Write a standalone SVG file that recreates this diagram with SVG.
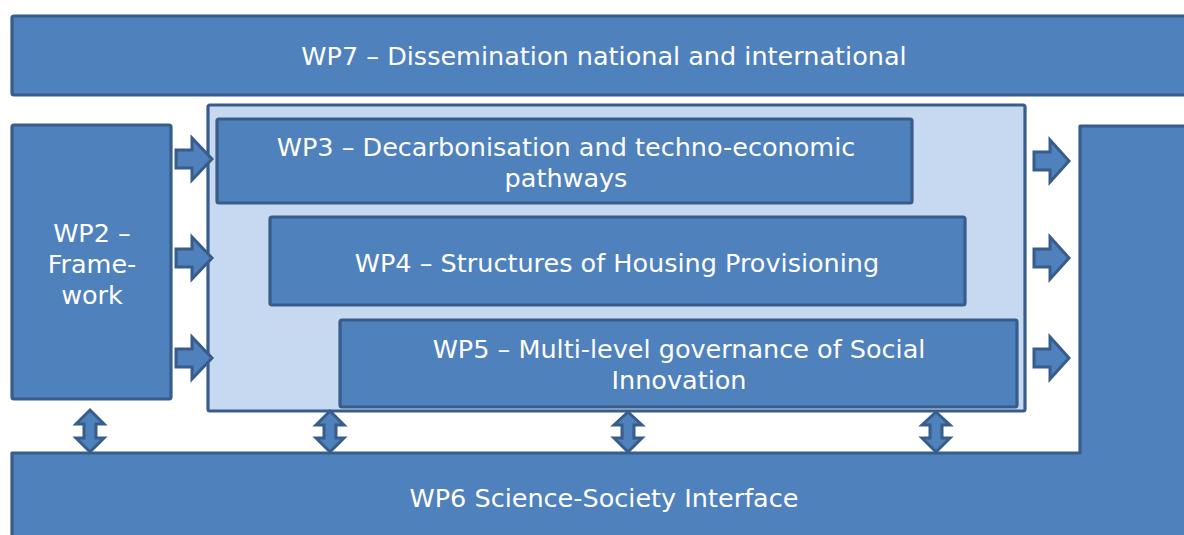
<svg xmlns="http://www.w3.org/2000/svg" width="1184" height="535" viewBox="0 0 1184 535">
<style>
.box{fill:#4f81bd;stroke:#385d8a;stroke-width:3.2;stroke-linejoin:round}
.panel{fill:#c6d9f1;stroke:#385d8a;stroke-width:3.2}
.arr{fill:#4f81bd;stroke:#385d8a;stroke-width:3;stroke-linejoin:miter}
.t{font-family:"DejaVu Sans","Verdana",sans-serif;font-size:25.5px;fill:#ffffff;text-anchor:middle}
</style>
<rect width="1184" height="535" fill="#ffffff"/>
<g id="wp7">
<rect class="box" x="12" y="16" width="1185" height="79" rx="2"/>
<text class="t" x="604" y="65">WP7 – Dissemination national and international</text>
</g>
<g id="wp6">
<path class="box" d="M12,453 H1080 V126 H1197 V545 H12 Z"/>
<text class="t" x="604" y="507">WP6 Science-Society Interface</text>
</g>
<g id="wp2">
<rect class="box" x="12" y="125" width="159" height="274" rx="2"/>
<text class="t" x="92" y="242">WP2 –</text>
<text class="t" x="92" y="273">Frame-</text>
<text class="t" x="92" y="304">work</text>
</g>
<g id="core">
<rect class="panel" x="208" y="105" width="817" height="306" rx="2"/>
</g>
<g id="wp3">
<rect class="box" x="217" y="119" width="695" height="84" rx="2"/>
<text class="t" x="566" y="156">WP3 – Decarbonisation and techno-economic</text>
<text class="t" x="566" y="187">pathways</text>
</g>
<g id="wp4">
<rect class="box" x="270" y="217" width="695" height="88" rx="2"/>
<text class="t" x="617" y="272">WP4 – Structures of Housing Provisioning</text>
</g>
<g id="wp5">
<rect class="box" x="340" y="320" width="677" height="87" rx="2"/>
<text class="t" x="679" y="358">WP5 – Multi-level governance of Social</text>
<text class="t" x="679" y="389">Innovation</text>
</g>
<g id="connectors">
<path class="arr" d="M176,150 H192 V138 L212,159 L192,180 V168 H176 Z"/>
<path class="arr" d="M176,249 H192 V237 L212,258 L192,279 V267 H176 Z"/>
<path class="arr" d="M176,349 H192 V337 L212,358 L192,379 V367 H176 Z"/>
<path class="arr" d="M1034,152 H1050 V140 L1069,161 L1050,182 V170 H1034 Z"/>
<path class="arr" d="M1034,249 H1050 V237 L1069,258 L1050,279 V267 H1034 Z"/>
<path class="arr" d="M1034,349 H1050 V337 L1069,358 L1050,379 V367 H1034 Z"/>
<path class="arr" d="M90,410 L104,424 H96 V438 H104 L90,452 L76,438 H84 V424 H76 Z"/>
<path class="arr" d="M330,411 L344,425 H336 V438 H344 L330,452 L316,438 H324 V425 H316 Z"/>
<path class="arr" d="M628,412 L642,425 H634 V438 H642 L628,452 L614,438 H622 V425 H614 Z"/>
<path class="arr" d="M936,412 L950,425 H942 V438 H950 L936,452 L922,438 H930 V425 H922 Z"/>
</g>
</svg>
